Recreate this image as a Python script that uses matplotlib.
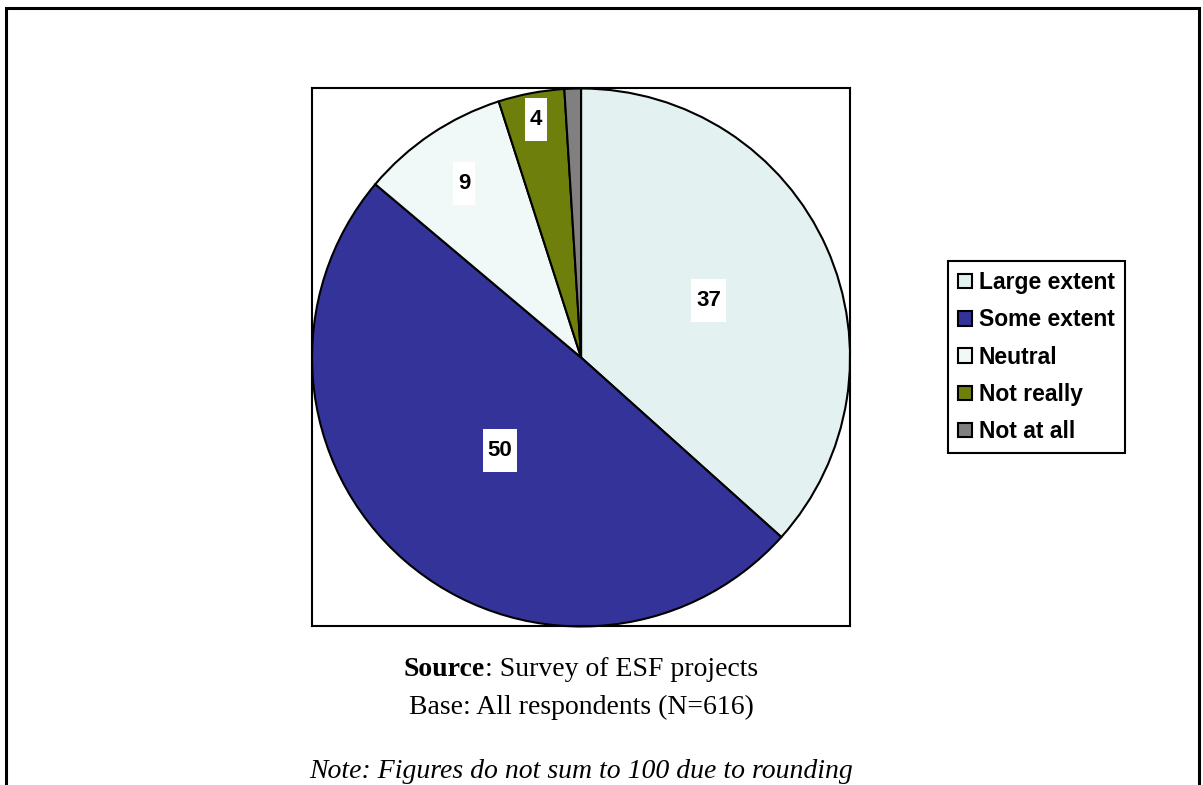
import numpy as np
import matplotlib.pyplot as plt
from matplotlib.patches import Rectangle
from matplotlib.path import Path

categories = ['Large extent', 'Some extent', 'Neutral', 'Not really', 'Not at all']
values = [37, 50, 9, 4, 1]
value_labels = ['37', '50', '9', '4', '']
colors = ['#e4f1f1', '#333399', '#f0f8f8', '#6f7f0c', '#808080']
label_radius = [0.52, 0.46, 0.78, 0.9, 0.9]

SANS = 'Liberation Sans'
SERIF = 'Liberation Serif'


def tall_box(x0, y0, width, height, mutation_size):
    # excel style data label box: narrow sides, tall top/bottom padding
    px, py = 0.22 * mutation_size, 0.5 * mutation_size
    x0, y0 = x0 - px, y0 - py
    x1, y1 = x0 + width + 2 * px, y0 + height + 2 * py
    return Path([(x0, y0), (x1, y0), (x1, y1), (x0, y1), (x0, y0)], closed=True)


fig = plt.figure(figsize=(12.03, 7.85), dpi=100)

# outer frame (bottom edge is cut off in the original)
fig.add_artist(Rectangle((6 / 1203, -0.02), 1193 / 1203, 1.02 - 8 / 785,
                         transform=fig.transFigure, fill=False,
                         edgecolor='black', linewidth=2.2, clip_on=False))

ax = fig.add_axes([0.2594, 0.2013, 0.4472, 0.6866])
wedges, _ = ax.pie(values, colors=colors, startangle=90, counterclock=False,
                   wedgeprops=dict(edgecolor='black', linewidth=1.5))
ax.set_frame_on(True)
ax.set_xticks([])
ax.set_yticks([])
ax.set_xlim(-1.0, 1.0)
ax.set_ylim(-1.0, 1.0)
for sp in ax.spines.values():
    sp.set_linewidth(1.5)

for w, txt, r in zip(wedges, value_labels, label_radius):
    if not txt:
        continue
    ang = np.deg2rad((w.theta1 + w.theta2) / 2)
    ax.text(r * np.cos(ang), r * np.sin(ang), txt, ha='center', va='center',
            fontsize=16, fontweight='bold', family=SANS,
            bbox=dict(boxstyle=tall_box, facecolor='white', edgecolor='none'))

leg = fig.legend(wedges, categories, loc='center left', bbox_to_anchor=(0.788, 0.545),
                 prop=dict(family=SANS, weight='bold', size=16.5),
                 fancybox=False, edgecolor='black', framealpha=1,
                 handlelength=0.6, handleheight=0.6, handletextpad=0.3,
                 labelspacing=0.62, borderpad=0.45, borderaxespad=0)
leg.get_frame().set_linewidth(1.5)

# caption lines
cx = 581 / 1203
t1 = fig.text(0, 0.1389, 'Source', family=SERIF, fontweight='bold', fontsize=20,
              va='baseline')
t2 = fig.text(0, 0.1389, ': Survey of ESF projects', family=SERIF, fontsize=20,
              va='baseline')
fig.canvas.draw()
rend = fig.canvas.get_renderer()
w1 = t1.get_window_extent(rend).width / fig.bbox.width
w2 = t2.get_window_extent(rend).width / fig.bbox.width
t1.set_x(cx - (w1 + w2) / 2)
t2.set_x(cx - (w1 + w2) / 2 + w1)

fig.text(cx, 0.0904, 'Base: All respondents (N=616)', family=SERIF, fontsize=20,
         ha='center', va='baseline')
fig.text(cx, 0.0089, 'Note: Figures do not sum to 100 due to rounding', family=SERIF,
         fontsize=20, style='italic', ha='center', va='baseline')

fig.savefig('out.png', dpi=100)
